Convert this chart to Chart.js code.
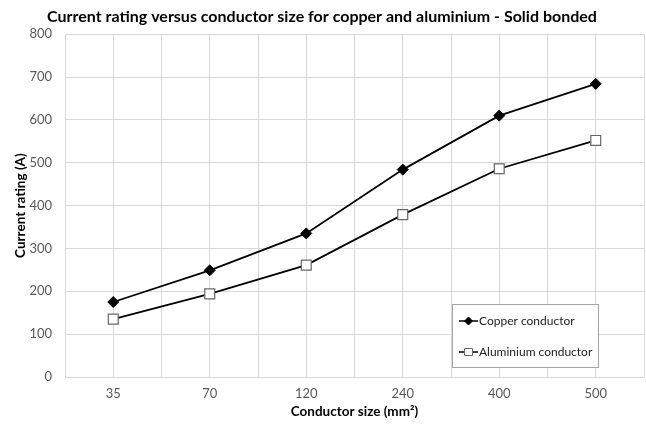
<!DOCTYPE html>
<html>
<head>
<meta charset="utf-8">
<script src="https://cdn.jsdelivr.net/npm/chart.js@4/dist/chart.umd.min.js"></script>
<style>
  html, body { margin: 0; padding: 0; background: #fff; }
  #wrap { width: 646px; height: 424px; position: relative; }
</style>
</head>
<body>
<div id="wrap"><canvas id="c" width="646" height="424"></canvas></div>
<script>
const categories = ['35', '70', '120', '240', '400', '500'];
const copperValues = [175, 249, 335, 484, 610, 684];
const aluminiumValues = [135, 194, 261, 379, 486, 552];
const yTicks = [0, 100, 200, 300, 400, 500, 600, 700, 800];
const seriesNames = ['Copper conductor', 'Aluminium conductor'];
const chartTitle = 'Current rating versus conductor size for copper and aluminium - Solid bonded';
const xTitle = 'Conductor size (mm\u00B2)';
const yTitle = 'Current rating (A)';

const FONT = 'Lato, "Open Sans", sans-serif';
const GRID = '#d9d9d9';

const boxLegend = {
  id: 'boxLegend',
  afterDraw(chart) {
    const ctx = chart.ctx;
    const a = chart.chartArea;
    const w = 146, h = 63;
    const x = a.right - 46 - w;
    const y = a.bottom - 10 - h;
    ctx.save();
    ctx.fillStyle = '#fff';
    ctx.fillRect(x, y, w, h);
    ctx.strokeStyle = '#a6a6a6';
    ctx.lineWidth = 1;
    ctx.strokeRect(x + 0.5, y + 0.5, w, h);
    const rows = [y + 17, y + 48];
    chart.data.datasets.forEach((ds, i) => {
      const cy = rows[i];
      ctx.strokeStyle = ds.borderColor;
      ctx.lineWidth = 1.5;
      ctx.beginPath();
      ctx.moveTo(x + 7, cy);
      ctx.lineTo(x + 26, cy);
      ctx.stroke();
      ctx.fillStyle = ds.pointBackgroundColor;
      ctx.strokeStyle = ds.pointBorderColor;
      ctx.lineWidth = 1;
      ctx.beginPath();
      if (i === 0) {
        ctx.moveTo(x + 16.5, cy - 4); ctx.lineTo(x + 20.5, cy); ctx.lineTo(x + 16.5, cy + 4); ctx.lineTo(x + 12.5, cy);
      } else {
        ctx.rect(x + 12.5, cy - 3.5, 8, 7);
      }
      ctx.closePath();
      ctx.fill();
      ctx.stroke();
      ctx.fillStyle = '#222';
      ctx.font = '12px ' + FONT;
      ctx.textBaseline = 'middle';
      ctx.textAlign = 'left';
      ctx.fillText(ds.label, x + 27, cy);
    });
    ctx.restore();
  }
};

new Chart(document.getElementById('c'), {
  type: 'line',
  data: {
    labels: categories,
    datasets: [
      {
        label: seriesNames[0],
        data: copperValues,
        borderColor: '#000',
        borderWidth: 1.8,
        pointStyle: 'rectRot',
        pointRadius: 5.5,
        pointBackgroundColor: '#000',
        pointBorderColor: '#000',
        pointBorderWidth: 1,
        tension: 0,
        xAxisID: 'x',
        yAxisID: 'y'
      },
      {
        label: seriesNames[1],
        data: aluminiumValues,
        borderColor: '#000',
        borderWidth: 1.8,
        pointStyle: 'rect',
        pointRadius: 7,
        pointBackgroundColor: '#fff',
        pointBorderColor: '#666',
        pointBorderWidth: 1.2,
        tension: 0,
        xAxisID: 'x',
        yAxisID: 'y'
      }
    ]
  },
  options: {
    responsive: false,
    animation: false,
    devicePixelRatio: 1,
    layout: { autoPadding: false, padding: { left: 0, right: 2, top: 0, bottom: 0 } },
    plugins: {
      legend: { display: false },
      tooltip: { enabled: false },
      title: {
        display: true,
        text: chartTitle,
        color: '#000',
        font: { family: FONT, size: 16, weight: 'bold' },
        padding: { top: 7, bottom: 8 }
      }
    },
    scales: {
      x: {
        type: 'category',
        offset: true,
        grid: { color: GRID, offset: true, drawTicks: false },
        border: { color: GRID },
        ticks: { color: '#595959', font: { family: FONT, size: 13 }, padding: 9, maxRotation: 0 },
        title: { display: true, text: xTitle, color: '#000', font: { family: FONT, size: 13.5, weight: 'bold' }, padding: { top: 0, bottom: 4 } },
        afterFit(s) { s.height = 47; s.paddingLeft = 0; s.paddingRight = 0; }
      },
      x2: {
        type: 'category',
        position: 'bottom',
        offset: true,
        grid: { color: GRID, offset: false, drawTicks: false },
        border: { display: false },
        ticks: { display: false },
        afterFit(s) { s.height = 0; s.paddingLeft = 0; s.paddingRight = 0; }
      },
      y: {
        min: 0,
        max: 800,
        afterBuildTicks(s) { s.ticks = yTicks.map(v => ({ value: v })); },
        grid: { color: GRID, drawTicks: false },
        border: { color: GRID },
        ticks: { color: '#595959', font: { family: FONT, size: 13 }, padding: 13 },
        title: { display: true, text: yTitle, color: '#000', font: { family: FONT, size: 13.5, weight: 'bold' }, padding: { top: 13, bottom: 0 } },
        afterFit(s) { s.width = 65; }
      }
    }
  },
  plugins: [boxLegend]
});
</script>
</body>
</html>
